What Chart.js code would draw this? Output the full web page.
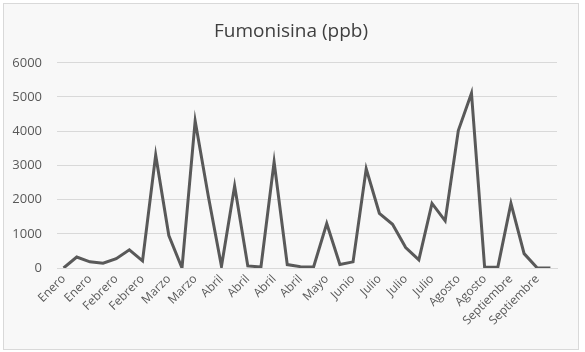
<!DOCTYPE html>
<html>
<head>
<meta charset="utf-8">
<script src="https://cdn.jsdelivr.net/npm/chart.js@4/dist/chart.umd.min.js"></script>
<style>
  html, body { margin: 0; padding: 0; background: #ffffff; }
  #wrap { position: relative; width: 585px; height: 352px; }
  #frame { position: absolute; left: 3px; top: 3px; width: 574px; height: 345px; border: 1px solid #d9d9d9; background: #f8f8f8; }
  #c { position: absolute; left: 0; top: 0; }
</style>
</head>
<body>
<div id="wrap">
  <div id="frame"></div>
  <canvas id="c" width="585" height="352"></canvas>
</div>
<script>
const categories = [
  "Enero", "Enero", "Enero", "Enero", "Febrero", "Febrero", "Febrero", "Febrero",
  "Marzo", "Marzo", "Marzo", "Marzo", "Abril", "Abril", "Abril", "Abril",
  "Abril", "Abril", "Abril", "Abril", "Mayo", "Mayo", "Junio", "Junio",
  "Julio", "Julio", "Julio", "Julio", "Julio", "Julio", "Agosto", "Agosto",
  "Agosto", "Agosto", "Septiembre", "Septiembre", "Septiembre", "Septiembre"
];
const fumonisina = [
  0, 320, 180, 140, 270, 530, 210, 3300, 950, 0,
  4300, 2100, 50, 2400, 60, 30, 3100, 100, 40, 30,
  1300, 100, 180, 2900, 1600, 1280, 600, 240, 1890, 1380,
  4020, 5110, 20, 20, 1890, 420, 0, 0
];
const yTicks = [0, 1000, 2000, 3000, 4000, 5000, 6000];

const FONT = "'Open Sans', 'Liberation Sans', sans-serif";

new Chart(document.getElementById('c'), {
  type: 'line',
  data: {
    labels: categories,
    datasets: [{
      label: 'Fumonisina (ppb)',
      data: fumonisina,
      borderColor: '#595959',
      borderWidth: 3,
      pointRadius: 0,
      tension: 0,
      fill: false
    }]
  },
  options: {
    responsive: false,
    animation: false,
    devicePixelRatio: 1,
    layout: { padding: { left: 12.5, right: 15.5, top: 0, bottom: 0 } },
    plugins: {
      legend: { display: false },
      tooltip: { enabled: false },
      title: {
        display: true,
        text: 'Fumonisina (ppb)',
        color: '#3f3f3f',
        font: { family: FONT, size: 19, weight: 'normal' },
        padding: { top: 20, bottom: 20 }
      }
    },
    scales: {
      x: {
        offset: true,
        grid: { display: false, drawTicks: false },
        border: { display: true, color: '#d9d9d9', width: 1 },
        ticks: {
          autoSkip: false,
          maxRotation: 45,
          minRotation: 45,
          padding: 4,
          color: '#595959',
          font: { family: FONT, size: 12 },
          callback: function(v, i) { return i % 2 === 0 ? categories[i] : ''; }
        },
        afterFit: function(s) { s.height = 84; }
      },
      y: {
        min: 0,
        max: 6000,
        afterBuildTicks: function(s) { s.ticks = yTicks.map(v => ({ value: v })); },
        grid: { color: '#d9d9d9', lineWidth: 1, drawTicks: false },
        border: { display: false },
        ticks: {
          padding: 15,
          color: '#595959',
          font: { family: FONT, size: 13 },
          callback: function(v) { return String(v); }
        },
        afterFit: function(s) { s.width = 44.5; }
      },
      ySpacer: {
        position: 'right',
        display: true,
        min: 0,
        max: 6000,
        grid: { display: false, drawTicks: false },
        border: { display: false },
        ticks: { display: false },
        afterFit: function(s) { s.width = 12.5; }
      }
    }
  }
});
</script>
</body>
</html>
